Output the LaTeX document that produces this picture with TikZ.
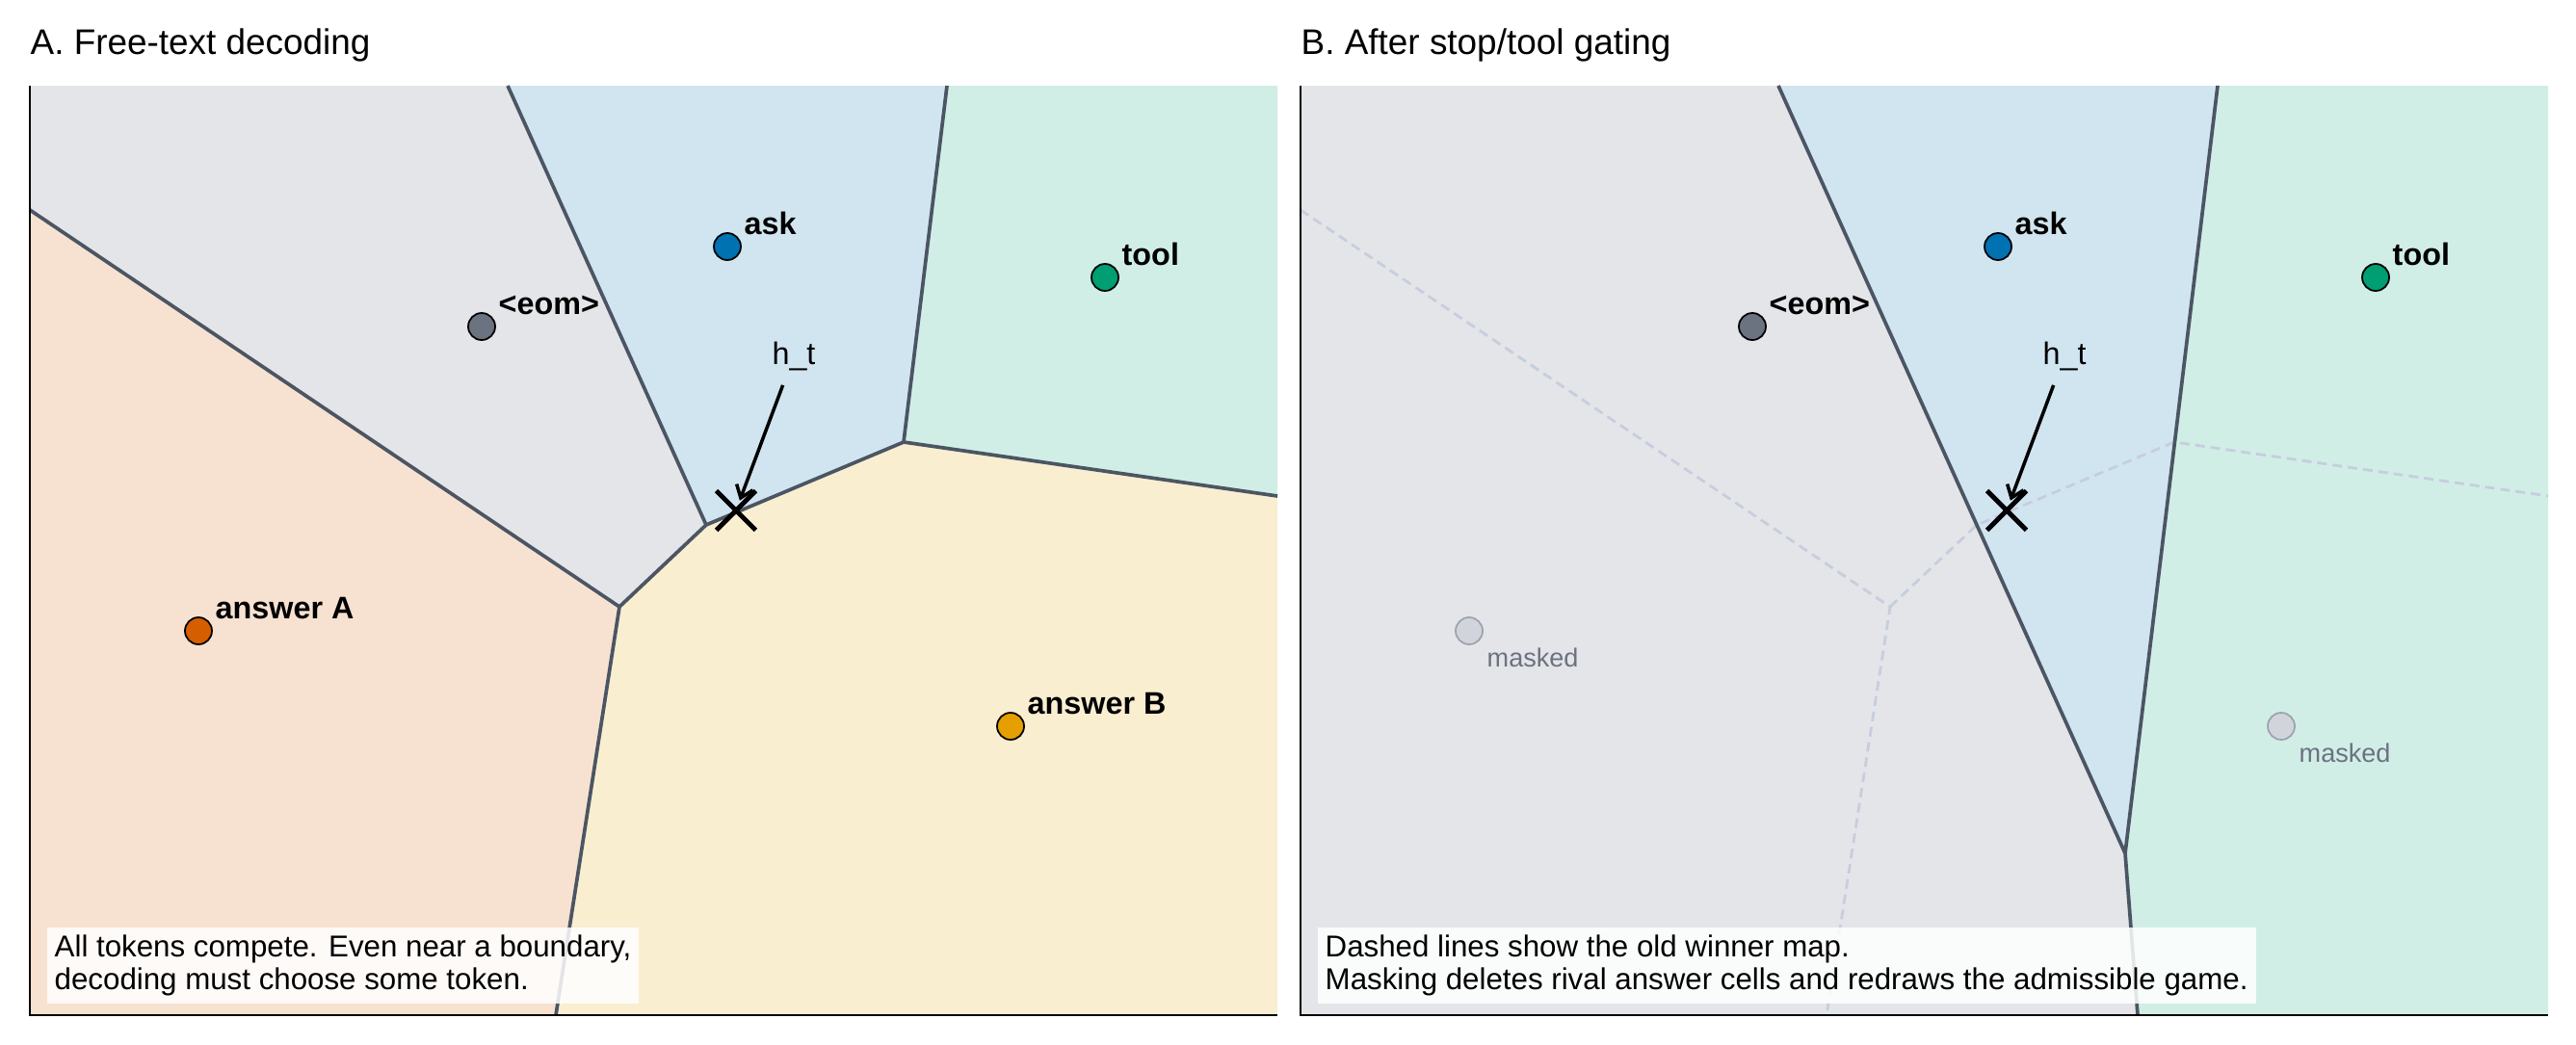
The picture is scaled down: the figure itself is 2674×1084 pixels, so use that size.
\documentclass[tikz,border=0pt]{standalone}
\usepackage{fontspec}
\setmainfont{Liberation Sans}
\definecolor{colask}{HTML}{0072B2}
\definecolor{coltool}{HTML}{009E73}
\definecolor{coleom}{HTML}{6B7280}
\definecolor{colansa}{HTML}{D55E00}
\definecolor{colansb}{HTML}{E69F00}
\definecolor{colline}{HTML}{4B5563}
\definecolor{colold}{HTML}{C6CEDE}
\definecolor{colmask}{HTML}{D1D5DB}
\definecolor{colmaskedge}{HTML}{9CA3AF}
\usetikzlibrary{arrows.meta,shapes.misc}

\begin{document}
\begin{tikzpicture}[x=0.1mm, y=-0.1mm,
  border/.style={draw=colline, line width=1.05pt, line join=round},
  oldborder/.style={draw=colold, line width=0.8pt, dash pattern=on 1mm off 0.6mm},
  spine/.style={draw=black, line width=0.6pt},
  tokdot/.style={circle, draw=black, line width=0.5pt, inner sep=0pt, minimum size=2.8mm},
  maskdot/.style={tokdot, draw=colmaskedge, fill=colmask},
  toklabel/.style={font=\fontsize{9.2}{11}\selectfont\bfseries, inner sep=0pt, anchor=base west, xshift=1.7mm, yshift=1.3mm},
  masklabel/.style={font=\fontsize{7.7}{9}\selectfont, text=coleom, inner sep=0pt, anchor=base west, xshift=1.8mm, yshift=-3.7mm},
  htcross/.style={draw, cross out, line width=1.4pt, inner sep=0pt, minimum size=3.6mm},
  htlabel/.style={font=\fontsize{9.2}{11}\selectfont, inner sep=1pt, anchor=base},
  htarrow/.style={-{Straight Barb[length=1.2mm,width=1.8mm]}, line width=1pt, shorten <=1.2mm, shorten >=1.1mm},
  paneltitle/.style={font=\fontsize{10.5}{12}\selectfont, inner sep=0pt, anchor=base west},
  notebox/.style={fill=white, fill opacity=0.85, text opacity=1, inner sep=0.8mm, anchor=south west, align=left, font=\fontsize{8.9}{9.7}\selectfont}
]
\useasboundingbox (0,0) rectangle (2674,1084);

% corners of the old winner map, in both panels
\foreach \p/\dx in {a/0,b/1319} {
  \begin{scope}[xshift=\dx*0.1mm]
    \coordinate (\p-tl) at (31,89);
    \coordinate (\p-tr) at (1326,89);
    \coordinate (\p-bl) at (31,1054);
    \coordinate (\p-br) at (1326,1054);
    \coordinate (\p-v1) at (733,545);
    \coordinate (\p-v2) at (938,459);
    \coordinate (\p-v3) at (643,630);
    \coordinate (\p-el) at (31,218);
    \coordinate (\p-et) at (527,89);
    \coordinate (\p-at) at (983,89);
    \coordinate (\p-tb) at (1326,515);
    \coordinate (\p-ab) at (577,1054);
  \end{scope}
}
% corners of the gated map
\coordinate (b-v4) at (2206,886);
\coordinate (b-nb) at (2219,1054);

% the cells of panel A
\fill[colansa!18] (a-el) -- (a-v3) -- (a-ab) -- (a-bl) -- cycle;
\fill[coleom!18] (a-tl) -- (a-et) -- (a-v1) -- (a-v3) -- (a-el) -- cycle;
\fill[colask!18] (a-et) -- (a-at) -- (a-v2) -- (a-v1) -- cycle;
\fill[coltool!18] (a-at) -- (a-tr) -- (a-tb) -- (a-v2) -- cycle;
\fill[colansb!18] (a-v3) -- (a-v1) -- (a-v2) -- (a-tb) -- (a-br) -- (a-ab) -- cycle;

% the cells of panel B
\fill[coleom!18] (b-tl) -- (b-et) -- (b-v4) -- (b-nb) -- (b-bl) -- cycle;
\fill[colask!18] (b-et) -- (b-at) -- (b-v4) -- cycle;
\fill[coltool!18] (b-at) -- (b-tr) -- (b-br) -- (b-nb) -- (b-v4) -- cycle;

% the old winner map under the gated one
\draw[oldborder] (b-el) -- (b-v3) -- (b-ab);
\draw[oldborder] (b-v3) -- (b-v1) -- (b-v2) -- (b-tb);
\draw[oldborder] (b-et) -- (b-v1);
\draw[oldborder] (b-at) -- (b-v2);

% the boundaries
\draw[border] (a-el) -- (a-v3) -- (a-ab);
\draw[border] (a-et) -- (a-v1) -- (a-v3);
\draw[border] (a-at) -- (a-v2) -- (a-tb);
\draw[border] (a-v1) -- (a-v2);
\draw[border] (b-et) -- (b-v4) -- (b-nb);
\draw[border] (b-at) -- (b-v4);

% the axes
\foreach \p in {a,b}
  \draw[spine] (\p-tl) -- (\p-bl) -- (\p-br);

% the tokens kept in both panels
\foreach \p/\dx in {a/0,b/1319}
  \foreach \n/\px/\py/\c/\txt in {ask/755/256/colask/ask, tool/1147/288/coltool/tool, eom/500/339/coleom/{<eom>}} {
    \node[tokdot, fill=\c] (\p-\n) at (\px+\dx,\py) {};
    \node[toklabel] (\p-\n-lab) at (\p-\n.center) {\txt};
  }

% the answer tokens, masked in panel B
\foreach \n/\px/\py/\c/\txt in {ansa/206/655/colansa/answer A, ansb/1049/754/colansb/answer B} {
  \node[tokdot, fill=\c] (a-\n) at (\px,\py) {};
  \node[toklabel] (a-\n-lab) at (a-\n.center) {\txt};
  \node[maskdot] (b-\n) at (\px+1319,\py) {};
  \node[masklabel] (b-\n-lab) at (b-\n.center) {masked};
}

% the hidden state
\foreach \p/\dx in {a/0,b/1319} {
  \node[htcross] (\p-ht) at (764+\dx,530) {};
  \node[htlabel] (\p-htlab) at (824+\dx,378) {h\_t};
  \draw[htarrow] (\p-htlab) -- (\p-ht.center);
}

% notes and titles
\node[notebox] (a-note) at (48,1043) {All tokens compete. Even near a boundary,\\decoding must choose some token.};
\node[notebox] (b-note) at (1367,1043) {Dashed lines show the old winner map.\\Masking deletes rival answer cells and redraws the admissible game.};
\node[paneltitle] (a-title) at (31,56) {A. Free-text decoding};
\node[paneltitle] (b-title) at (1350,56) {B. After stop/tool gating};

\end{tikzpicture}
\end{document}
